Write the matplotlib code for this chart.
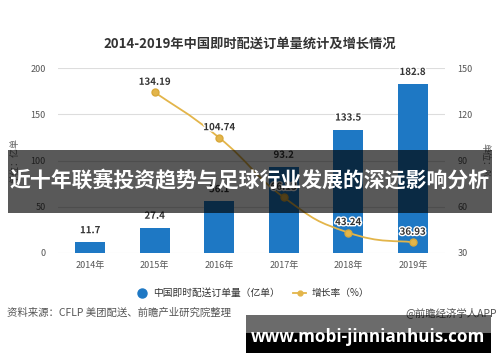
import matplotlib
matplotlib.use("Agg")
import matplotlib.pyplot as plt
from matplotlib.patches import Rectangle
from matplotlib.path import Path
from matplotlib.patches import PathPatch
from matplotlib.lines import Line2D
import matplotlib.patheffects as pe
import numpy as np

plt.rcParams['font.family'] = ['Noto Sans CJK SC', 'DejaVu Sans']

years = ['2014年', '2015年', '2016年', '2017年', '2018年', '2019年']
orders = [11.7, 27.4, 56.1, 93.2, 133.5, 182.8]
growth_years_idx = [1, 2, 3, 4, 5]
growth = [134.19, 104.74, 66.13, 43.24, 36.93]
left_ticks = [0, 50, 100, 150, 200]
right_ticks = [30, 60, 90, 120, 150]

title = '2014-2019年中国即时配送订单量统计及增长情况'
banner = '近十年联赛投资趋势与足球行业发展的深远影响分析'
source = '资料来源：CFLP 美团配送、前瞻产业研究院整理'
credit = '@前瞻经济学人APP'
url = 'www.mobi-jinnianhuis.com'
legend_labels = ['中国即时配送订单量（亿单）', '增长率（%）']

BLUE = '#1E78C4'
GOLD = '#E3B54A'
W, H = 500, 362

fig = plt.figure(figsize=(5, 3.62), dpi=100)
fig.patch.set_facecolor('white')

ax = fig.add_axes([58 / W, 1 - 253 / H, (445 - 58) / W, (253 - 68) / H])
ax2 = ax.twinx()

x = np.arange(len(years))
ax.bar(x, orders, width=0.47, color=BLUE, zorder=2)
ax.set_xlim(-0.5, len(years) - 0.5)
ax.set_ylim(0, 200)
ax.set_yticks(left_ticks)
ax.set_xticks(x)
ax.set_xticklabels(years)
ax.grid(axis='y', color='#dddddd', linewidth=0.8, zorder=0)
ax.set_axisbelow(True)
for s in ax.spines.values():
    s.set_visible(False)
for s in ax2.spines.values():
    s.set_visible(False)
ax.tick_params(axis='y', length=0, pad=9, labelsize=6.5, labelcolor='#555555')
ax.tick_params(axis='x', length=0, pad=6, labelsize=6.5, labelcolor='#555555')
ax2.set_ylim(30, 150)
ax2.set_yticks(right_ticks)
ax2.tick_params(axis='y', length=0, pad=9, labelsize=6.5, labelcolor='#555555')

ax.set_ylabel('单位：亿单', fontsize=6.5, color='#666666', labelpad=8)
ax2.set_ylabel('单位：%', fontsize=6.5, color='#666666', rotation=270, labelpad=12)

stroke = [pe.withStroke(linewidth=2, foreground='white')]
for xi, v in zip(x, orders):
    ax.annotate(f'{v}', (xi, v), xytext=(0, 5), textcoords='offset points',
                ha='center', va='bottom', fontsize=7, fontweight='bold',
                color='#333333', path_effects=stroke, zorder=5)

# smooth growth curve via cubic Bezier
gx = np.array(growth_years_idx, dtype=float)
gy = np.array(growth, dtype=float)
pts = np.column_stack([gx, gy])
sm = 0.25
verts = [tuple(pts[0])]
codes = [Path.MOVETO]
n = len(pts)
for i in range(n - 1):
    p0 = pts[i - 1] if i > 0 else pts[i]
    p1 = pts[i]
    p2 = pts[i + 1]
    p3 = pts[i + 2] if i + 2 < n else pts[i + 1]
    c1 = p1 + sm * (p2 - p0)
    c2 = p2 - sm * (p3 - p1)
    verts += [tuple(c1), tuple(c2), tuple(p2)]
    codes += [Path.CURVE4] * 3
ax2.add_patch(PathPatch(Path(verts, codes), facecolor='none', edgecolor=GOLD,
                        linewidth=1.3, zorder=3))
ax2.plot(gx, gy, linestyle='none', marker='o', markersize=5, color=GOLD,
         markeredgecolor='#d9a93a', zorder=4)
for xi, v in zip(gx, gy):
    ax2.annotate(f'{v:.2f}', (xi, v), xytext=(0, 4), textcoords='offset points',
                 ha='center', va='bottom', fontsize=7, fontweight='bold',
                 color='#333333', path_effects=stroke, zorder=5)

fig.text(250 / W, 1 - 44 / H, title, ha='center', va='center', fontsize=9.5,
         fontweight='bold', color='#333333')

handles = [Line2D([], [], marker='o', linestyle='none', color=BLUE, markersize=6.5),
           Line2D([], [], marker='o', color=GOLD, markersize=3.5, linewidth=1.3)]
fig.legend(handles, legend_labels, loc='center', bbox_to_anchor=(252 / W, 1 - 293 / H),
           ncol=2, frameon=False, fontsize=7, handlelength=1.4, columnspacing=1.3,
           handletextpad=0.5, labelcolor='#333333')

fig.text(7 / W, 1 - 313 / H, source, ha='left', va='center', fontsize=7.5, color='#555555')
fig.text(497 / W, 1 - 313 / H, credit, ha='right', va='center', fontsize=7.5, color='#555555')

# overlays
fig.add_artist(Rectangle((8 / W, 1 - 213 / H), (492 - 8) / W, (213 - 150) / H,
                         transform=fig.transFigure, facecolor='black', alpha=0.65,
                         edgecolor='none', zorder=10))
fig.text(250 / W, 1 - 181 / H, banner, ha='center', va='center', fontsize=15,
         fontweight='bold', color='white', zorder=11)

fig.add_artist(Rectangle((246 / W, 1 - 333 / H), (491 - 246) / W, (333 - 315) / H,
                         transform=fig.transFigure, facecolor='black', alpha=0.58,
                         edgecolor='none', zorder=10))
fig.add_artist(Rectangle((246 / W, 1 - 353 / H), (491 - 246) / W, (353 - 333) / H,
                         transform=fig.transFigure, facecolor='black',
                         edgecolor='none', zorder=10))
fig.text(368 / W, 1 - 337 / H, url, ha='center', va='center', fontsize=12.3,
         fontweight='bold', color='white', family=['Open Sans', 'DejaVu Sans'], zorder=11)

fig.savefig('out.png', dpi=100)
